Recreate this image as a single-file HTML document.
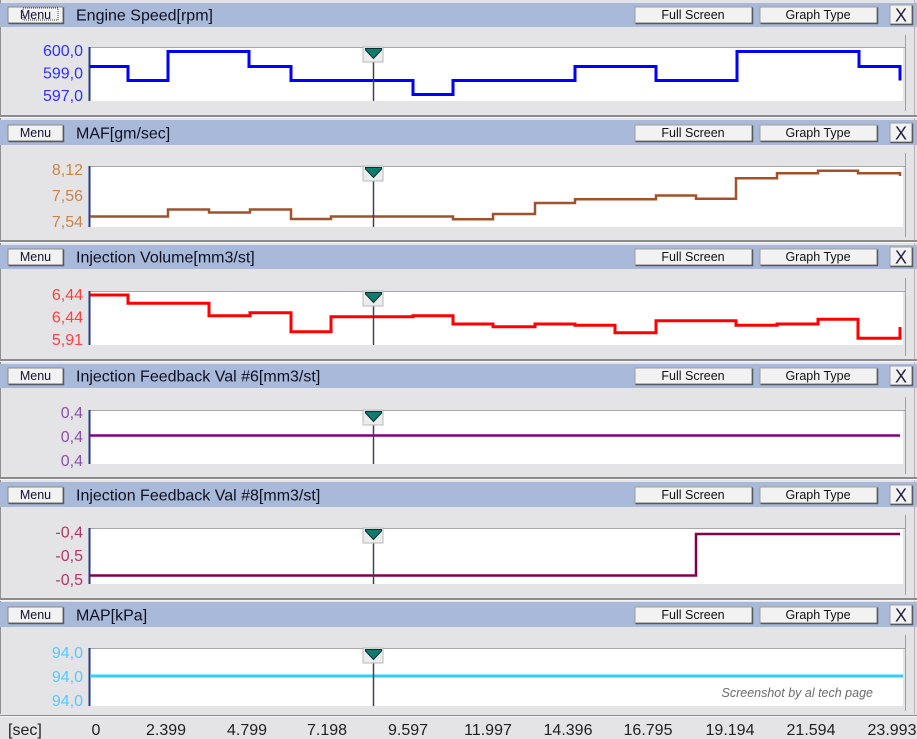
<!DOCTYPE html>
<html><head><meta charset="utf-8"><style>
html,body{margin:0;padding:0;background:#e4e4e7;}
svg{display:block;}
text{font-family:"Liberation Sans",Arial,sans-serif;}
</style></head><body>
<svg width="917" height="739" viewBox="0 0 917 739" xmlns="http://www.w3.org/2000/svg">
<defs>
<g id="btns">
  <rect x="8" y="4" width="55" height="16" fill="#f2f2f2" stroke="#8a8a8a" stroke-width="1"/>
  <path d="M8.5,20.5 H63.5 V4.5" fill="none" stroke="#5a5a5a" stroke-width="1.5"/>
  <text x="35.5" y="16" font-size="12.5" text-anchor="middle" fill="#101030">Menu</text>
  <rect x="635" y="4" width="117" height="16" fill="#f2f2f2" stroke="#a0a0a0" stroke-width="1"/>
  <path d="M635.5,20.5 H752.5 V4.5" fill="none" stroke="#5a5a5a" stroke-width="1.5"/>
  <text x="693" y="16" font-size="12.5" text-anchor="middle" fill="#101010">Full Screen</text>
  <rect x="760" y="4" width="117" height="16" fill="#f2f2f2" stroke="#a0a0a0" stroke-width="1"/>
  <path d="M760.5,20.5 H877.5 V4.5" fill="none" stroke="#5a5a5a" stroke-width="1.5"/>
  <text x="818" y="16" font-size="12.5" text-anchor="middle" fill="#101010">Graph Type</text>
  <rect x="890" y="2" width="22" height="19" fill="#f2f2f2" stroke="#a0a0a0" stroke-width="1"/>
  <path d="M890.5,21.5 H912.5 V2.5" fill="none" stroke="#5a5a5a" stroke-width="1.5"/>
  <text x="901" y="18.5" font-size="18" text-anchor="middle" fill="#202040">X</text>
</g>
<g id="cursor">
  <line x1="373.5" y1="14" x2="373.5" y2="0" stroke="#404050" stroke-width="1.5"/>
  <rect x="363" y="0" width="20" height="15" fill="#ececec" stroke="#b8b8b8" stroke-width="1"/>
  <polygon points="365.5,1.5 381.5,1.5 381.5,3 373.5,11.5 365.5,3" fill="#0e7d6e" stroke="#0a3030" stroke-width="1"/>
</g>
</defs>

<rect x="0" y="0" width="917" height="739" fill="#e4e4e7"/>
<line x1="0.5" y1="0" x2="0.5" y2="714" stroke="#909090" stroke-width="1"/>
<line x1="914.5" y1="0" x2="914.5" y2="714" stroke="#b4b4b8" stroke-width="1"/>

<!-- Panel 1 -->
<rect x="0" y="3" width="917" height="24" fill="#a8b9d9"/>
<use href="#btns" transform="translate(0,3)"/>
<rect x="23" y="8" width="35" height="12" fill="none" stroke="#404040" stroke-width="1" stroke-dasharray="1,1"/>
<text x="76" y="20.5" font-size="16" fill="#101020">Engine Speed[rpm]</text>
<line x1="905.5" y1="35" x2="905.5" y2="111" stroke="#a0a0a0"/>
<rect x="90" y="47" width="813" height="54" fill="#ffffff"/>
<line x1="89" y1="47.5" x2="905" y2="47.5" stroke="#a8a8a8"/>
<line x1="89.5" y1="47" x2="89.5" y2="101" stroke="#2a3a8a" stroke-width="2"/>
<text x="83" y="56" font-size="16" text-anchor="end" fill="#3030ff">600,0</text>
<text x="83" y="78.5" font-size="16" text-anchor="end" fill="#3030ff">599,0</text>
<text x="83" y="101" font-size="16" text-anchor="end" fill="#3030ff">597,0</text>
<path d="M90,66.5 H128 V80.5 H168 V51.5 H249 V66.5 H291 V80.5 H413 V94.5 H453 V80.5 H575 V66.5 H656 V80.5 H737 V51.5 H859 V66.5 H900 V80.5" fill="none" stroke="#0000ff" stroke-width="3"/>
<line x1="373.5" y1="60" x2="373.5" y2="101" stroke="#404050" stroke-width="1.5"/>
<use href="#cursor" transform="translate(0,47)"/>
<rect x="0" y="115" width="917" height="2" fill="#8c8c8c"/>
<rect x="0" y="117" width="917" height="1" fill="#f6f6f6"/>

<!-- Panel 2 -->
<rect x="0" y="120" width="917" height="25" fill="#a8b9d9"/>
<use href="#btns" transform="translate(0,121)"/>
<text x="76" y="138.5" font-size="16" fill="#101020">MAF[gm/sec]</text>
<line x1="905.5" y1="153" x2="905.5" y2="237" stroke="#a0a0a0"/>
<rect x="90" y="166" width="813" height="61" fill="#ffffff"/>
<line x1="89" y1="166.5" x2="905" y2="166.5" stroke="#a8a8a8"/>
<line x1="89.5" y1="166" x2="89.5" y2="227" stroke="#2a3a8a" stroke-width="2"/>
<text x="83" y="175" font-size="16" text-anchor="end" fill="#c8844a">8,12</text>
<text x="83" y="201" font-size="16" text-anchor="end" fill="#c8844a">7,56</text>
<text x="83" y="227" font-size="16" text-anchor="end" fill="#c8844a">7,54</text>
<path d="M90,216.5 H168 V209.5 H209 V212.5 H250 V209.5 H291 V219 H331 V216.5 H453 V219.3 H493 V214 H535 V203 H575 V199.3 H656 V195.5 H696 V198.7 H736 V178.3 H777 V173.3 H818 V170.7 H858 V173.3 H900 V176" fill="none" stroke="#a0522d" stroke-width="2.5"/>
<line x1="373.5" y1="179" x2="373.5" y2="227" stroke="#404050" stroke-width="1.5"/>
<use href="#cursor" transform="translate(0,166)"/>
<rect x="0" y="240" width="917" height="2" fill="#8c8c8c"/>
<rect x="0" y="242" width="917" height="1" fill="#f6f6f6"/>

<!-- Panel 3 -->
<rect x="0" y="245" width="917" height="24" fill="#a8b9d9"/>
<use href="#btns" transform="translate(0,245)"/>
<text x="76" y="262.5" font-size="16" fill="#101020">Injection Volume[mm3/st]</text>
<line x1="905.5" y1="278" x2="905.5" y2="356" stroke="#a0a0a0"/>
<rect x="90" y="291" width="813" height="54" fill="#ffffff"/>
<line x1="89" y1="291.5" x2="905" y2="291.5" stroke="#a8a8a8"/>
<line x1="89.5" y1="291" x2="89.5" y2="345" stroke="#2a3a8a" stroke-width="2"/>
<text x="83" y="300" font-size="16" text-anchor="end" fill="#ff4040">6,44</text>
<text x="83" y="322.5" font-size="16" text-anchor="end" fill="#ff4040">6,44</text>
<text x="83" y="345" font-size="16" text-anchor="end" fill="#ff4040">5,91</text>
<path d="M90,295 H128 V303.3 H209 V315.7 H250 V312.7 H291 V331.7 H331 V316.7 H413 V315.7 H453 V324 H493 V326.7 H535 V324 H575 V325.3 H615 V332.7 H656 V320.7 H736 V325.3 H777 V324 H818 V319.3 H858 V338.3 H900 V327" fill="none" stroke="#ff0000" stroke-width="3"/>
<line x1="373.5" y1="304" x2="373.5" y2="345" stroke="#404050" stroke-width="1.5"/>
<use href="#cursor" transform="translate(0,291)"/>
<rect x="0" y="359" width="917" height="2" fill="#8c8c8c"/>
<rect x="0" y="361" width="917" height="1" fill="#f6f6f6"/>

<!-- Panel 4 -->
<rect x="0" y="364" width="917" height="24" fill="#a8b9d9"/>
<use href="#btns" transform="translate(0,364)"/>
<text x="76" y="381.5" font-size="16" fill="#101020">Injection Feedback Val #6[mm3/st]</text>
<line x1="905.5" y1="397" x2="905.5" y2="474" stroke="#a0a0a0"/>
<rect x="90" y="410" width="813" height="54" fill="#ffffff"/>
<line x1="89" y1="410.5" x2="905" y2="410.5" stroke="#a8a8a8"/>
<line x1="89.5" y1="410" x2="89.5" y2="464" stroke="#2a3a8a" stroke-width="2"/>
<text x="83" y="418" font-size="16" text-anchor="end" fill="#8a50a8">0,4</text>
<text x="83" y="442" font-size="16" text-anchor="end" fill="#8a50a8">0,4</text>
<text x="83" y="466" font-size="16" text-anchor="end" fill="#8a50a8">0,4</text>
<path d="M90,435.5 H900" fill="none" stroke="#800080" stroke-width="2.5"/>
<line x1="373.5" y1="423" x2="373.5" y2="464" stroke="#404050" stroke-width="1.5"/>
<use href="#cursor" transform="translate(0,410)"/>
<rect x="0" y="477" width="917" height="2" fill="#8c8c8c"/>
<rect x="0" y="479" width="917" height="1" fill="#f6f6f6"/>

<!-- Panel 5 -->
<rect x="0" y="482" width="917" height="25" fill="#a8b9d9"/>
<use href="#btns" transform="translate(0,483)"/>
<text x="76" y="500.5" font-size="16" fill="#101020">Injection Feedback Val #8[mm3/st]</text>
<line x1="905.5" y1="515" x2="905.5" y2="595" stroke="#a0a0a0"/>
<rect x="90" y="528" width="813" height="56" fill="#ffffff"/>
<line x1="89" y1="528.5" x2="905" y2="528.5" stroke="#a8a8a8"/>
<line x1="89.5" y1="528" x2="89.5" y2="584" stroke="#2a3a8a" stroke-width="2"/>
<text x="83" y="537.5" font-size="16" text-anchor="end" fill="#b03868">-0,4</text>
<text x="83" y="561" font-size="16" text-anchor="end" fill="#b03868">-0,5</text>
<text x="83" y="585" font-size="16" text-anchor="end" fill="#b03868">-0,5</text>
<path d="M90,575.5 H696 V534 H900" fill="none" stroke="#800050" stroke-width="2.5"/>
<line x1="373.5" y1="541" x2="373.5" y2="584" stroke="#404050" stroke-width="1.5"/>
<use href="#cursor" transform="translate(0,528)"/>
<rect x="0" y="598" width="917" height="2" fill="#8c8c8c"/>
<rect x="0" y="600" width="917" height="1" fill="#f6f6f6"/>

<!-- Panel 6 -->
<rect x="0" y="602" width="917" height="25" fill="#a8b9d9"/>
<use href="#btns" transform="translate(0,603)"/>
<text x="76" y="620.5" font-size="16" fill="#101020">MAP[kPa]</text>
<line x1="905.5" y1="635" x2="905.5" y2="711" stroke="#a0a0a0"/>
<rect x="90" y="648" width="813" height="58" fill="#ffffff"/>
<line x1="89" y1="648.5" x2="905" y2="648.5" stroke="#a8a8a8"/>
<line x1="89.5" y1="648" x2="89.5" y2="706" stroke="#2a3a8a" stroke-width="2"/>
<text x="83" y="658" font-size="16" text-anchor="end" fill="#50ccff">94,0</text>
<text x="83" y="682" font-size="16" text-anchor="end" fill="#50ccff">94,0</text>
<text x="83" y="706" font-size="16" text-anchor="end" fill="#50ccff">94,0</text>
<path d="M90,676 H903" fill="none" stroke="#33ccff" stroke-width="3"/>
<line x1="373.5" y1="661" x2="373.5" y2="706" stroke="#404050" stroke-width="1.5"/>
<use href="#cursor" transform="translate(0,648)"/>
<text x="873" y="697" font-size="12.5" font-style="italic" text-anchor="end" fill="#6a6a6a">Screenshot by al tech page</text>
<rect x="0" y="715" width="917" height="1" fill="#8c8c8c"/>
<rect x="0" y="716" width="917" height="1" fill="#f6f6f6"/>

<!-- X axis -->
<g font-size="16" fill="#202020" text-anchor="middle">
<text x="8" y="735" text-anchor="start">[sec]</text>
<text x="96" y="735">0</text>
<text x="166" y="735">2.399</text>
<text x="247" y="735">4.799</text>
<text x="327" y="735">7.198</text>
<text x="408" y="735">9.597</text>
<text x="488" y="735">11.997</text>
<text x="568" y="735">14.396</text>
<text x="648" y="735">16.795</text>
<text x="730" y="735">19.194</text>
<text x="811" y="735">21.594</text>
<text x="892" y="735">23.993</text>
</g>
</svg>
</body></html>
